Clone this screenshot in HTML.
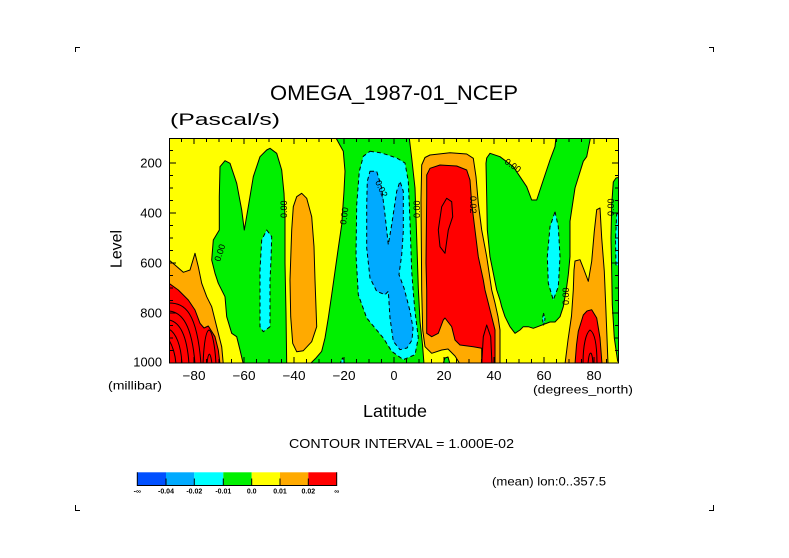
<!DOCTYPE html>
<html>
<head>
<meta charset="utf-8">
<style>
  html,body{margin:0;padding:0;background:#ffffff;}
  svg{display:block;}
  text{font-family:"Liberation Sans",sans-serif;fill:#000;}
</style>
</head>
<body>
<svg width="789" height="558" viewBox="0 0 789 558" xmlns="http://www.w3.org/2000/svg">
  <rect x="0" y="0" width="789" height="558" fill="#ffffff"/>

  <!-- corner marks -->
  <g stroke="#000" stroke-width="1" fill="none">
    <path d="M75.5,52 V47.5 H80"/>
    <path d="M713.5,52 V47.5 H709"/>
    <path d="M75.5,505 V510.5 H80"/>
    <path d="M713.5,505 V510.5 H709"/>
  </g>

  <!-- titles -->
  <text x="270" y="100" font-size="21" textLength="248" lengthAdjust="spacingAndGlyphs">OMEGA_1987-01_NCEP</text>
  <text x="170" y="125" font-size="17" textLength="110" lengthAdjust="spacingAndGlyphs">(Pascal/s)</text>

  <defs>
    <clipPath id="plot"><rect x="169" y="138" width="450" height="225"/></clipPath>
  </defs>

  <g clip-path="url(#plot)" stroke="#000" stroke-width="1" stroke-linejoin="round">
    <!-- background yellow -->
    <rect x="169" y="138" width="450" height="225" fill="#ffff00" stroke="none"/>

    <!-- left-bottom orange -->
    <polygon fill="#ffaa00" points="169,260 175,265 183.3,272.3 190,270 195,253.3 198.3,266.7 201.7,283.3 206.7,296.7 211.7,306.7 215,320 218.3,333.3 221.7,346.7 223.3,364 160,364 160,260"/>
    <!-- left-bottom red -->
    <polygon fill="#ff0000" points="160,283.3 169,283.3 178.3,290 188.3,300 195,310 200,323.3 204,328 208.3,326 215,336.7 218.3,350 220,364 160,364"/>
    <g fill="none">
      <path d="M169,303 C185,303 197,312 201,364"/>
      <path d="M169,311 C182,312 192,325 195,364"/>
      <path d="M169,320 C180,322 187,335 189,364"/>
      <path d="M169,329 C176,333 181,345 182,364"/>
      <path d="M169,340 C172,345 175,352 176,364"/>
      <path d="M203,364 C204,342 206,331 209,330 C212,331 215,345 216,364"/>
      <path d="M207,364 C208,353 210,349 212,364"/>
    </g>

    <!-- green A -->
    <polygon fill="#00f000" points="243.3,364 240,350 236.7,336.7 231.7,333.3 226.7,316.7 225,296.7 218.3,283.3 215,273.3 211.7,260 213.3,240 219.3,230 219.3,196.7 220,166.7 225,160.7 230,163.3 236.7,183.3 241.7,210 244.3,230 248.3,206.7 253.3,176.7 260,156.7 266.7,150 270,148.3 276.7,153.3 281.7,170 284,193.3 285,216.7 285,263.3 286,313.3 286.7,364"/>
    <!-- cyan A -->
    <polygon fill="#00ffff" stroke-dasharray="4 3" points="266.7,230 271.7,236.7 271,260 270,280 270,326.7 263.3,331.7 260,326.7 260,270 261.7,240"/>

    <!-- orange A ellipse -->
    <polygon fill="#ffaa00" points="301.7,193.3 306.7,198.3 311.7,216.7 314,246.7 315,280 316.7,326.7 311.7,341.7 303.3,350.7 296.7,351.7 292.7,343.3 290.7,316.7 290,280 291.7,230 293.3,206.7 296.7,196.7"/>

    <!-- green B -->
    <polygon fill="#00f000" points="333.3,130 408.3,130 411.7,158 415,188 416.7,238 418.3,288 420,321.3 422.5,344.7 424,364 310,364 316,358 321.7,351.3 325,338 328.3,318 331.7,294.7 335,271.3 338.3,248 341.7,224.7 344,191.3 345,171.3 343.3,151.3 336,138"/>
    <!-- cyan blip -->
    <polygon fill="#00ffff" stroke-dasharray="3 2" points="340,364 342.5,358 345,364"/>
    <!-- cyan B -->
    <polygon fill="#00ffff" stroke-dasharray="4 3" points="370,151.3 381.7,153 396.7,158 405,163 408.3,181.3 410,221.3 411.7,271.3 413.5,295 415,311.3 418.3,338 415,354.7 403.3,359.7 391.7,351.3 383.3,338 366.7,318 358.3,294.7 356,254.7 356.7,204.7 359.3,171.3 363.3,156.3"/>
    <!-- blue B -->
    <polygon fill="#00aaff" stroke-dasharray="4 3" points="370,171.3 376.7,171.3 381.7,188 385,214.7 388.3,244.7 391.7,224.7 396.7,191.3 400,181.3 403.3,191.3 403.3,231.3 401.7,254.7 399,274.7 404,288 410,311 413,328 412,340 407,348 400,349.7 393.3,341.3 390,318 388.3,291.3 385,294.7 376.7,291.3 370,278 366.7,248 366.7,204.7 367.3,181.3"/>

    <!-- orange C -->
    <polygon fill="#ffaa00" points="421.7,165 425,157.5 430,155 450,152.7 466.7,154 473.3,158.3 476,176.7 478.3,203.3 481.7,230 486.7,256.7 491.7,290 495,303 498,316.7 500,330 500,364 460,364 455,356 448,349 441.7,350 431.7,353.3 425,346.7 422.7,330 421.7,290 421,200"/>
    <!-- small green blip -->
    <polygon fill="#00f000" points="443,364 445,358 448,357 450,364"/>
    <!-- red C -->
    <polygon fill="#ff0000" points="426.7,175 430,168.3 440,165 456.7,166 466.7,170 470,180 471.7,203.3 475,230 478.3,256.7 483.3,280 485,290 488.3,303 491.7,316.7 495,330 495,364 481.7,364 481.7,348.3 473.3,346.7 460,345 455,340 451.7,326.7 445,318 443.3,320 438.3,333.3 431.7,336.7 426.7,333.3 426.7,290 426,263 426.7,196.7"/>
    <g fill="none">
      <polygon points="446.7,198.3 451.7,201.7 452.7,216.7 448.3,230 445,253.3 440,246.7 438.3,230 441.7,206.7"/>
      <path d="M481.7,364 L483.3,336.7 L486.7,325 L490.7,336.7 L492,364"/>
    </g>

    <!-- green C -->
    <polygon fill="#00f000" points="486.7,158 490,153.3 500,156.7 513.3,166.7 520,176.7 526.7,186.7 531.7,200 536.7,200 543.3,180 550,160 555,146.7 556.7,130 592,130 586.7,156.7 583.3,161.3 575,188 570,221.3 570,256.7 568.3,274.7 566.7,286.7 563.3,306.7 560,316.7 555,322 550,322 533.3,328.3 528.3,326.7 523.3,326.7 520,330 515,333.3 510,326.7 505,316.7 501.7,306.7 500,300 496.7,290 490,256.7 487.3,230 486.7,196.7 486,163.3"/>
    <!-- cyan C -->
    <polygon fill="#00ffff" stroke-dasharray="4 3" points="555,211.7 558.3,226.7 560,256.7 558.3,286.7 553.3,300 548.3,283.3 547.3,256.7 550,226.7"/>
    <polygon fill="#00ffff" stroke-dasharray="3 2" points="543.5,313 545,319 543.5,325 542.5,319"/>

    <!-- orange D -->
    <polygon fill="#ffaa00" points="575,261 580,259.7 583.3,268 588.3,281.3 591.7,261.3 594.3,231.3 596.7,209.7 600,208 601.7,238 604.3,271.3 605.7,304.7 607,338 608,364 565,364 568,340 571.5,316 573.3,290 574,270"/>
    <!-- red D -->
    <polygon fill="#ff0000" points="575,364 576.5,345 578.3,331.3 583.3,315 587,311 591.7,309.7 596.7,318 600,338 602,364"/>
    <g fill="none">
      <path d="M583,364 C583,345 586,333 590,330 C595,333 597,345 597,364"/>
      <path d="M588,364 C589,351 592,348 593,364"/>
    </g>

    <!-- green E (right edge) -->
    <polygon fill="#00f000" points="625,176 616,178 613.3,182 611.7,204.7 611,238 611.7,271.3 612.3,304.7 614.3,338 617.7,361.3 625,364"/>
    <!-- cyan E -->
    <polygon fill="#00ffff" stroke-dasharray="4 3" points="625,212 616.7,214 615.5,240 616,265 625,267"/>
  </g>

  <!-- contour labels -->
  <g font-size="9">
    <text transform="translate(220,262) rotate(-72)" >0.00</text>
    <text transform="translate(287,218) rotate(-90)">0.00</text>
    <text transform="translate(346,225) rotate(-82)">0.00</text>
    <text transform="translate(375,182) rotate(65)">0.02</text>
    <text transform="translate(420,218) rotate(-90)">0.00</text>
    <text transform="translate(470,196) rotate(90)">0.02</text>
    <text transform="translate(504,163) rotate(35)">0.00</text>
    <text transform="translate(569,305) rotate(-90)">0.00</text>
    <text transform="translate(614,216) rotate(-90)">0.00</text>
  </g>

  <!-- frame -->
  <rect x="169.5" y="138.5" width="449" height="224.5" fill="none" stroke="#000" stroke-width="1"/>

  <!-- ticks -->
  <g stroke="#000" stroke-width="1" fill="none">
    <path d="M169,150.5 h4 M169,163 h7 M169,175.5 h4 M169,188 h4 M169,200.5 h4 M169,213 h7 M169,225.5 h4 M169,238 h4 M169,250.5 h4 M169,263 h7 M169,275.5 h4 M169,288 h4 M169,300.5 h4 M169,313 h7 M169,325.5 h4 M169,338 h4 M169,350.5 h4"/>
    <path d="M619,150.5 h-4 M619,163 h-7 M619,175.5 h-4 M619,188 h-4 M619,200.5 h-4 M619,213 h-7 M619,225.5 h-4 M619,238 h-4 M619,250.5 h-4 M619,263 h-7 M619,275.5 h-4 M619,288 h-4 M619,300.5 h-4 M619,313 h-7 M619,325.5 h-4 M619,338 h-4 M619,350.5 h-4"/>
    <path d="M181.5,138 v4 M194,138 v6 M206.5,138 v4 M219,138 v4 M231.5,138 v4 M244,138 v6 M256.5,138 v4 M269,138 v4 M281.5,138 v4 M294,138 v6 M306.5,138 v4 M319,138 v4 M331.5,138 v4 M344,138 v6 M356.5,138 v4 M369,138 v4 M381.5,138 v4 M394,138 v6 M406.5,138 v4 M419,138 v4 M431.5,138 v4 M444,138 v6 M456.5,138 v4 M469,138 v4 M481.5,138 v4 M494,138 v6 M506.5,138 v4 M519,138 v4 M531.5,138 v4 M544,138 v6 M556.5,138 v4 M569,138 v4 M581.5,138 v4 M594,138 v6 M606.5,138 v4"/>
    <path d="M181.5,363 v-4 M194,363 v-6 M206.5,363 v-4 M219,363 v-4 M231.5,363 v-4 M244,363 v-6 M256.5,363 v-4 M269,363 v-4 M281.5,363 v-4 M294,363 v-6 M306.5,363 v-4 M319,363 v-4 M331.5,363 v-4 M344,363 v-6 M356.5,363 v-4 M369,363 v-4 M381.5,363 v-4 M394,363 v-6 M406.5,363 v-4 M419,363 v-4 M431.5,363 v-4 M444,363 v-6 M456.5,363 v-4 M469,363 v-4 M481.5,363 v-4 M494,363 v-6 M506.5,363 v-4 M519,363 v-4 M531.5,363 v-4 M544,363 v-6 M556.5,363 v-4 M569,363 v-4 M581.5,363 v-4 M594,363 v-6 M606.5,363 v-4"/>
  </g>

  <!-- y labels -->
  <g font-size="12.5" text-anchor="end">
    <text x="162" y="167.5" textLength="21.7" lengthAdjust="spacingAndGlyphs">200</text>
    <text x="162" y="217.5" textLength="21.7" lengthAdjust="spacingAndGlyphs">400</text>
    <text x="162" y="267.5" textLength="21.7" lengthAdjust="spacingAndGlyphs">600</text>
    <text x="162" y="317.5" textLength="21.7" lengthAdjust="spacingAndGlyphs">800</text>
    <text x="162" y="366.5" textLength="28.7" lengthAdjust="spacingAndGlyphs">1000</text>
  </g>
  <text x="108" y="389.5" font-size="12" textLength="54" lengthAdjust="spacingAndGlyphs">(millibar)</text>
  <text transform="translate(121.5,249) rotate(-90)" font-size="16" text-anchor="middle" textLength="38" lengthAdjust="spacingAndGlyphs">Level</text>

  <!-- x labels -->
  <g font-size="12.5" text-anchor="middle">
    <text x="194" y="380" textLength="23" lengthAdjust="spacingAndGlyphs">−80</text>
    <text x="244" y="380" textLength="23" lengthAdjust="spacingAndGlyphs">−60</text>
    <text x="294" y="380" textLength="23" lengthAdjust="spacingAndGlyphs">−40</text>
    <text x="344" y="380" textLength="23" lengthAdjust="spacingAndGlyphs">−20</text>
    <text x="394" y="380">0</text>
    <text x="444" y="380" textLength="15" lengthAdjust="spacingAndGlyphs">20</text>
    <text x="494" y="380" textLength="15" lengthAdjust="spacingAndGlyphs">40</text>
    <text x="544" y="380" textLength="15" lengthAdjust="spacingAndGlyphs">60</text>
    <text x="594" y="380" textLength="15" lengthAdjust="spacingAndGlyphs">80</text>
  </g>
  <text x="533" y="393.5" font-size="12" textLength="100" lengthAdjust="spacingAndGlyphs">(degrees_north)</text>
  <text x="363" y="417" font-size="17.5" textLength="64" lengthAdjust="spacingAndGlyphs">Latitude</text>

  <text x="289" y="448" font-size="12.5" textLength="225" lengthAdjust="spacingAndGlyphs">CONTOUR INTERVAL = 1.000E-02</text>
  <text x="492" y="485.5" font-size="12" textLength="114" lengthAdjust="spacingAndGlyphs">(mean) lon:0..357.5</text>

  <!-- colorbar -->
  <g>
    <rect x="137.3" y="472.3" width="28.7" height="12.7" fill="#0050ff"/>
    <rect x="166" y="472.3" width="28.3" height="12.7" fill="#00aaff"/>
    <rect x="194.3" y="472.3" width="29" height="12.7" fill="#00ffff"/>
    <rect x="223.3" y="472.3" width="28.4" height="12.7" fill="#00f000"/>
    <rect x="251.7" y="472.3" width="28.3" height="12.7" fill="#ffff00"/>
    <rect x="280" y="472.3" width="28.3" height="12.7" fill="#ffaa00"/>
    <rect x="308.3" y="472.3" width="28.4" height="12.7" fill="#ff0000"/>
    <g stroke="#000" stroke-width="1" fill="none">
      <path d="M137.3,472.3 V485.5 H336.7 V472.3"/>
      <path d="M166,478.5 v7 M194.3,478.5 v7 M223.3,478.5 v7 M251.7,478.5 v7 M280,478.5 v7 M308.3,478.5 v7"/>
    </g>
    <g font-size="7" font-weight="bold" text-anchor="middle">
      <text x="137.3" y="493.5">-∞</text>
      <text x="166" y="493.5">-0.04</text>
      <text x="194.3" y="493.5">-0.02</text>
      <text x="223.3" y="493.5">-0.01</text>
      <text x="251.7" y="493.5">0.0</text>
      <text x="280" y="493.5">0.01</text>
      <text x="308.3" y="493.5">0.02</text>
      <text x="336.7" y="493.5">∞</text>
    </g>
  </g>
</svg>
</body>
</html>
